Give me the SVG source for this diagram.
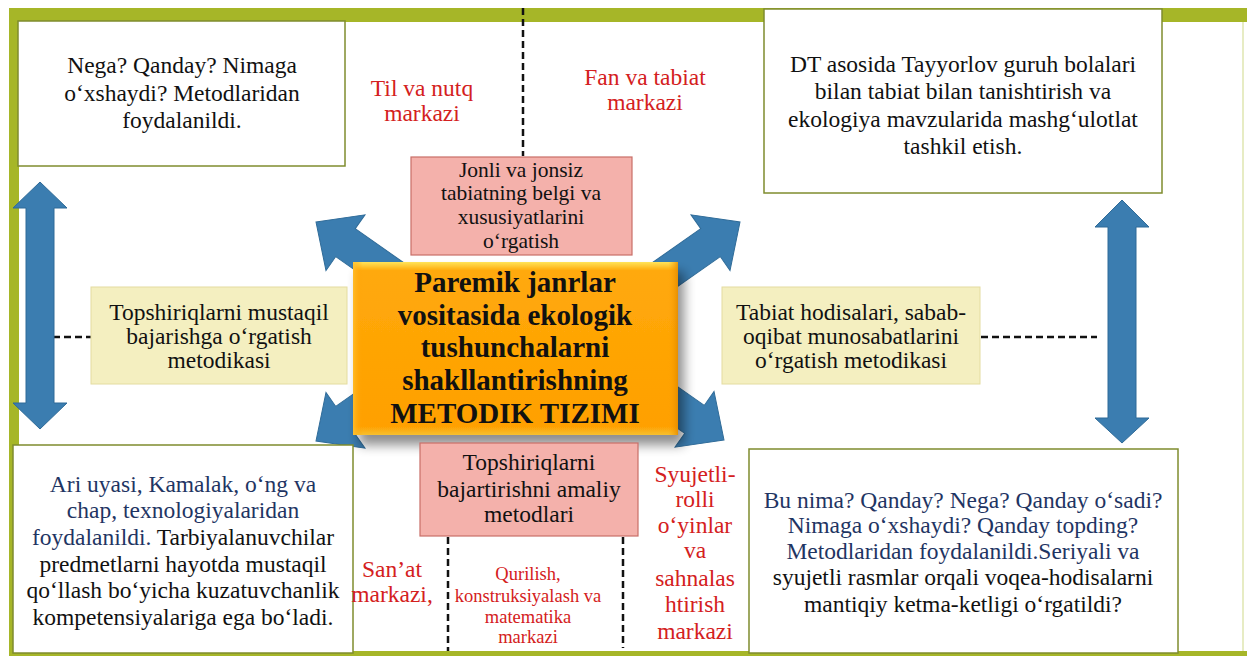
<svg xmlns="http://www.w3.org/2000/svg" width="1247" height="656" viewBox="0 0 1247 656">
<defs>
<style>
text{text-anchor:middle;}
.t{font-size:23.5px;fill:#111;}
.nv{fill:#1f3563;}
.red{font-size:23.5px;fill:#d42020;}
.sm{font-size:18.5px;fill:#d42020;}
.pk{font-size:21.5px;fill:#111;}
.ctr{font-size:29px;font-weight:bold;fill:#111;}
.wbox{fill:#fff;stroke:#7f8c2e;stroke-width:1.5;}
.ybox{fill:#f4efc0;stroke:#e4dca0;stroke-width:1;}
.pbox{fill:#f4b1ab;stroke:#c86e68;stroke-width:1.2;}
.arr{fill:#3b7db0;stroke:#2f6b98;stroke-width:1;}
.dash{stroke:#111;stroke-width:2.5;stroke-dasharray:7,4;fill:none;}
</style>
<linearGradient id="og" x1="0" y1="0" x2="0" y2="1">
<stop offset="0" stop-color="#ffe45a"/>
<stop offset="0.05" stop-color="#ffa90a"/>
<stop offset="0.95" stop-color="#ffa000"/>
<stop offset="1" stop-color="#f6c030"/>
</linearGradient>
<linearGradient id="oh" x1="0" y1="0" x2="1" y2="0">
<stop offset="0" stop-color="#ffc030" stop-opacity="0.8"/>
<stop offset="0.03" stop-color="#ffa000" stop-opacity="0"/>
<stop offset="0.97" stop-color="#ffa000" stop-opacity="0"/>
<stop offset="1" stop-color="#e08a00" stop-opacity="0.8"/>
</linearGradient>
<filter id="sh" x="-10%" y="-10%" width="125%" height="130%">
<feGaussianBlur in="SourceAlpha" stdDeviation="6"/>
<feOffset dx="6" dy="10" result="b"/>
<feComponentTransfer><feFuncA type="linear" slope="0.45"/></feComponentTransfer>
<feMerge><feMergeNode/><feMergeNode in="SourceGraphic"/></feMerge>
</filter>
<polygon id="da" points="0,0 36,-34 36,-17 130,-17 130,17 36,17 36,34"/>
</defs>

<rect x="0" y="0" width="1247" height="656" fill="#fff"/>
<rect x="9" y="8" width="1238" height="14" fill="#a6b628"/>
<rect x="9" y="8" width="10" height="648" fill="#a6b628"/>
<rect x="9" y="651" width="1238" height="5" fill="#a6b628"/>
<line x1="1243" y1="22" x2="1243" y2="651" stroke="#dfe6b0" stroke-width="1.5"/>

<g id="connectors">
<line class="dash" x1="523" y1="8" x2="523" y2="156"/>
<line class="dash" x1="53" y1="337" x2="91" y2="337"/>
<line class="dash" x1="981" y1="337" x2="1097" y2="337"/>
<line class="dash" x1="448" y1="537" x2="448" y2="651"/>
<line class="dash" x1="623" y1="537" x2="623" y2="648"/>
<polygon class="arr" points="40,182 67,208 54,208 54,403 67,403 40,429 13,403 26,403 26,208 13,208"/>
<polygon class="arr" points="1122,200 1149,227 1136,227 1136,418 1149,418 1122,443 1095,418 1108,418 1108,227 1095,227"/>
<use href="#da" class="arr" transform="translate(316,222) rotate(35)"/>
<use href="#da" class="arr" transform="translate(740,222) rotate(145)"/>
<use href="#da" class="arr" transform="translate(316,441) rotate(-35)"/>
<use href="#da" class="arr" transform="translate(724,440) rotate(-145)"/>
</g>

<g font-family="Liberation Serif">
<g id="box-top-left">
<rect class="wbox" x="18" y="21" width="327" height="145"/>
<text class="t" x="182" y="73" font-family="Liberation Serif">Nega? Qanday? Nimaga</text>
<text class="t" x="182" y="101" font-family="Liberation Serif">o‘xshaydi? Metodlaridan</text>
<text class="t" x="182" y="128" font-family="Liberation Serif">foydalanildi.</text>
</g>

<g id="label-til">
<text class="red" x="422" y="96" font-family="Liberation Serif">Til va nutq</text>
<text class="red" x="422" y="121" font-family="Liberation Serif">markazi</text>
</g>

<g id="label-fan">
<text class="red" x="645" y="85" font-family="Liberation Serif">Fan va tabiat</text>
<text class="red" x="645" y="110" font-family="Liberation Serif">markazi</text>
</g>

<g id="box-top-right">
<rect class="wbox" x="764" y="9" width="398" height="184"/>
<text class="t" x="963" y="72" font-family="Liberation Serif">DT asosida Tayyorlov guruh bolalari</text>
<text class="t" x="963" y="99" font-family="Liberation Serif">bilan tabiat bilan tanishtirish va</text>
<text class="t" x="963" y="127" font-family="Liberation Serif">ekologiya mavzularida mashg‘ulotlat</text>
<text class="t" x="963" y="154" font-family="Liberation Serif">tashkil etish.</text>
</g>

<g id="box-jonli">
<rect class="pbox" x="411" y="157" width="221" height="98"/>
<text class="pk" x="521" y="177" font-family="Liberation Serif">Jonli va jonsiz</text>
<text class="pk" x="521" y="200" font-family="Liberation Serif">tabiatning belgi va</text>
<text class="pk" x="521" y="224" font-family="Liberation Serif">xususiyatlarini</text>
<text class="pk" x="521" y="248" font-family="Liberation Serif">o‘rgatish</text>
</g>

<g id="box-left-method">
<rect class="ybox" x="91" y="287" width="256" height="97"/>
<text class="t" x="219" y="320" font-family="Liberation Serif">Topshiriqlarni mustaqil</text>
<text class="t" x="219" y="344" font-family="Liberation Serif">bajarishga o‘rgatish</text>
<text class="t" x="219" y="368" font-family="Liberation Serif">metodikasi</text>
</g>

<g id="box-right-method">
<rect class="ybox" x="722" y="287" width="258" height="97"/>
<text class="t" x="851" y="320" font-family="Liberation Serif">Tabiat hodisalari, sabab-</text>
<text class="t" x="851" y="344" font-family="Liberation Serif">oqibat munosabatlarini</text>
<text class="t" x="851" y="368" font-family="Liberation Serif">o‘rgatish metodikasi</text>
</g>

<g id="center">
<rect x="353" y="262" width="325" height="173" fill="url(#og)" filter="url(#sh)"/>
<rect x="353" y="262" width="325" height="173" fill="url(#oh)"/>
<text class="ctr" x="515" y="292" font-family="Liberation Serif">Paremik janrlar</text>
<text class="ctr" x="515" y="325" font-family="Liberation Serif">vositasida ekologik</text>
<text class="ctr" x="515" y="357" font-family="Liberation Serif">tushunchalarni</text>
<text class="ctr" x="515" y="390" font-family="Liberation Serif">shakllantirishning</text>
<text class="ctr" x="515" y="423" font-family="Liberation Serif">METODIK TIZIMI</text>
</g>

<g id="box-bottom-left">
<rect class="wbox" x="13" y="445" width="340" height="208"/>
<text class="t nv" x="183" y="492" font-family="Liberation Serif">Ari uyasi, Kamalak, o‘ng va</text>
<text class="t nv" x="183" y="518" font-family="Liberation Serif">chap, texnologiyalaridan</text>
<text class="t" x="183" y="545" font-family="Liberation Serif"><tspan class="nv">foydalanildi.</tspan> Tarbiyalanuvchilar</text>
<text class="t" x="183" y="572" font-family="Liberation Serif">predmetlarni hayotda mustaqil</text>
<text class="t" x="183" y="598" font-family="Liberation Serif">qo‘llash bo‘yicha kuzatuvchanlik</text>
<text class="t" x="183" y="625" font-family="Liberation Serif">kompetensiyalariga ega bo‘ladi.</text>
</g>

<g id="box-topshiriq">
<rect class="pbox" x="420" y="443" width="218" height="93"/>
<text class="t" x="529" y="470" font-family="Liberation Serif">Topshiriqlarni</text>
<text class="t" x="529" y="497" font-family="Liberation Serif">bajartirishni amaliy</text>
<text class="t" x="529" y="522" font-family="Liberation Serif">metodlari</text>
</g>

<g id="label-sanat">
<text class="red" x="392" y="577" font-family="Liberation Serif">San’at</text>
<text class="red" x="392" y="602" font-family="Liberation Serif">markazi,</text>
</g>

<g id="label-qurilish">
<text class="sm" x="528" y="580" font-family="Liberation Serif">Qurilish,</text>
<text class="sm" x="528" y="602" font-family="Liberation Serif">konstruksiyalash va</text>
<text class="sm" x="528" y="623" font-family="Liberation Serif">matematika</text>
<text class="sm" x="528" y="643" font-family="Liberation Serif">markazi</text>
</g>

<g id="label-syujet">
<text class="red" x="695" y="482" font-family="Liberation Serif">Syujetli-</text>
<text class="red" x="695" y="507" font-family="Liberation Serif">rolli</text>
<text class="red" x="695" y="533" font-family="Liberation Serif">o‘yinlar</text>
<text class="red" x="695" y="558" font-family="Liberation Serif">va</text>
<text class="red" x="695" y="586" font-family="Liberation Serif">sahnalas</text>
<text class="red" x="695" y="612" font-family="Liberation Serif">htirish</text>
<text class="red" x="695" y="639" font-family="Liberation Serif">markazi</text>
</g>

<g id="box-bottom-right">
<rect class="wbox" x="749" y="449" width="429" height="204"/>
<text class="t nv" x="963" y="508" font-family="Liberation Serif">Bu nima? Qanday? Nega? Qanday o‘sadi?</text>
<text class="t nv" x="963" y="533" font-family="Liberation Serif">Nimaga o‘xshaydi? Qanday topding?</text>
<text class="t nv" x="963" y="559" font-family="Liberation Serif">Metodlaridan foydalanildi.Seriyali va</text>
<text class="t" x="963" y="585" font-family="Liberation Serif">syujetli rasmlar orqali voqea-hodisalarni</text>
<text class="t" x="963" y="612" font-family="Liberation Serif">mantiqiy ketma-ketligi o‘rgatildi?</text>
</g>
</g>
</svg>
